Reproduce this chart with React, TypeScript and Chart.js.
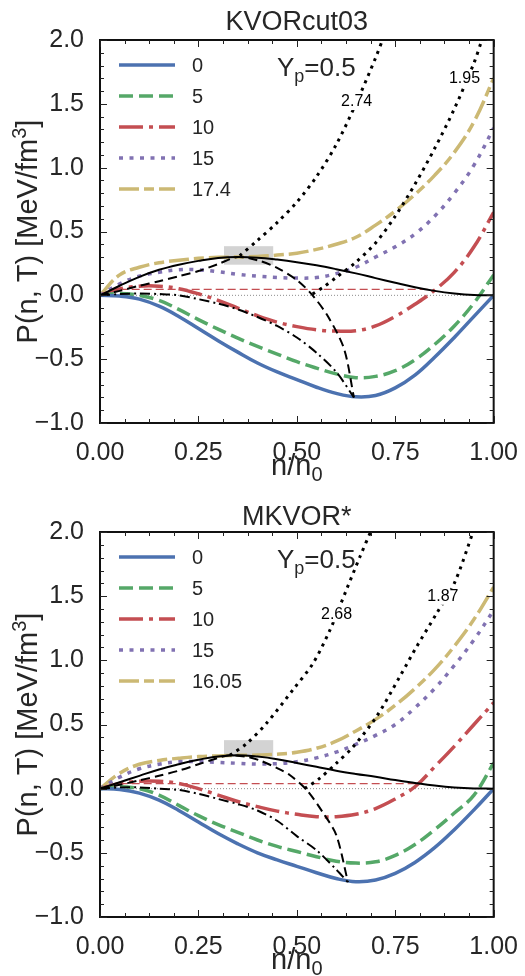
import React, { useEffect, useRef } from 'react';
import { Chart, registerables } from 'chart.js';

Chart.register(...registerables);

const FONT = '"Liberation Sans", Arial, sans-serif';
const TEXT = '#262626';
const C_BLUE = '#4c72b0';
const C_GREEN = '#55a868';
const C_RED = '#c44e52';
const C_PURPLE = '#8172b2';
const C_YELLOW = '#ccb974';

// common density grid n/n0
const XG = [0, 0.05, 0.1, 0.15, 0.2, 0.25, 0.3, 0.35, 0.4, 0.45, 0.5, 0.55, 0.6, 0.65, 0.7, 0.75, 0.8, 0.85, 0.9, 0.95, 1.0];

// ---------- KVORcut03 ----------
const K_T0 = [0, -0.006, -0.03, -0.085, -0.165, -0.26, -0.355, -0.445, -0.53, -0.6, -0.66, -0.72, -0.768, -0.795, -0.785, -0.725, -0.625, -0.485, -0.33, -0.165, 0];
const K_T5 = [0, 0.015, 0.0, -0.04, -0.11, -0.19, -0.265, -0.335, -0.4, -0.46, -0.52, -0.57, -0.615, -0.645, -0.635, -0.59, -0.505, -0.385, -0.24, -0.06, 0.16];
const K_T10 = [0, 0.05, 0.072, 0.072, 0.052, 0.012, -0.04, -0.1, -0.16, -0.21, -0.245, -0.27, -0.28, -0.277, -0.24, -0.165, -0.07, 0.04, 0.18, 0.38, 0.65];
const K_T15 = [0, 0.09, 0.15, 0.18, 0.2, 0.2, 0.185, 0.165, 0.15, 0.14, 0.135, 0.14, 0.17, 0.22, 0.3, 0.38, 0.48, 0.62, 0.8, 1.02, 1.31];
const K_T17 = [0, 0.16, 0.22, 0.255, 0.275, 0.29, 0.298, 0.3, 0.305, 0.315, 0.33, 0.36, 0.4, 0.455, 0.55, 0.66, 0.79, 0.94, 1.12, 1.36, 1.7];
const K_BS = [0, 0.075, 0.145, 0.2, 0.24, 0.27, 0.293, 0.3, 0.295, 0.28, 0.26, 0.235, 0.205, 0.172, 0.135, 0.098, 0.063, 0.035, 0.015, 0.003, 0];
const K_BD_X = [0, 0.05, 0.1, 0.15, 0.2, 0.25, 0.3, 0.35, 0.4, 0.45, 0.5, 0.54, 0.58, 0.62, 0.645];
const K_BD_Y = [0, 0.035, 0.075, 0.11, 0.15, 0.19, 0.245, 0.3, 0.275, 0.215, 0.12, 0.0, -0.17, -0.42, -0.8];
const K_BDD_X = [0, 0.05, 0.1, 0.15, 0.2, 0.25, 0.3, 0.35, 0.4, 0.45, 0.5, 0.55, 0.6, 0.645];
const K_BDD_Y = [0, 0.01, 0.015, 0.01, 0.0, -0.03, -0.065, -0.11, -0.17, -0.24, -0.33, -0.45, -0.6, -0.8];
const K_S1_X = [0.355, 0.4, 0.45, 0.5, 0.55, 0.6, 0.65, 0.7, 0.72];
const K_S1_Y = [0.31, 0.43, 0.57, 0.73, 0.93, 1.18, 1.5, 1.86, 2.02];
const K_S2_X = [0.54, 0.57, 0.6, 0.65, 0.7, 0.75, 0.8, 0.85, 0.9, 0.95, 0.97];
const K_S2_Y = [0.01, 0.07, 0.14, 0.26, 0.41, 0.62, 0.87, 1.15, 1.46, 1.82, 2.0];
const K_MAXW_X = [0.05, 0.84];
const K_MAXW_Y = [0.047, 0.047];
const K_BOX = [0.315, 0.44, 0.24, 0.385];
const K_TEMPS = ['0', '5', '10', '15', '17.4'];
const K_SLABELS = ['2.74', '1.95'];
const K_SLABEL_POS = [[0.652, 1.514], [0.926, 1.70]];

// ---------- MKVOR* ----------
const M_T0 = [0, -0.006, -0.035, -0.09, -0.17, -0.26, -0.35, -0.43, -0.5, -0.555, -0.605, -0.655, -0.7, -0.725, -0.712, -0.66, -0.575, -0.46, -0.32, -0.165, 0];
const M_T5 = [0, 0.015, 0.0, -0.05, -0.13, -0.21, -0.28, -0.34, -0.4, -0.45, -0.49, -0.53, -0.565, -0.58, -0.57, -0.52, -0.435, -0.32, -0.19, -0.05, 0.2];
const M_T10 = [0, 0.04, 0.058, 0.058, 0.04, 0.0, -0.05, -0.1, -0.14, -0.175, -0.2, -0.218, -0.218, -0.2, -0.155, -0.08, 0.015, 0.17, 0.33, 0.5, 0.67];
const M_T15 = [0, 0.09, 0.155, 0.19, 0.21, 0.21, 0.205, 0.198, 0.192, 0.195, 0.21, 0.24, 0.285, 0.345, 0.415, 0.5, 0.63, 0.78, 0.96, 1.16, 1.39];
const M_T16 = [0, 0.12, 0.19, 0.22, 0.237, 0.25, 0.255, 0.26, 0.262, 0.268, 0.283, 0.315, 0.37, 0.45, 0.54, 0.65, 0.78, 0.93, 1.11, 1.32, 1.57];
const M_BS = [0, 0.05, 0.1, 0.15, 0.19, 0.225, 0.25, 0.26, 0.25, 0.23, 0.2, 0.17, 0.14, 0.115, 0.093, 0.067, 0.045, 0.025, 0.01, 0.002, 0];
const M_BD_X = [0, 0.05, 0.1, 0.15, 0.2, 0.25, 0.3, 0.33, 0.37, 0.406, 0.45, 0.482, 0.525, 0.567, 0.6, 0.63];
const M_BD_Y = [0, 0.03, 0.065, 0.1, 0.14, 0.19, 0.24, 0.26, 0.25, 0.22, 0.16, 0.106, -0.01, -0.19, -0.36, -0.73];
const M_BDD_X = [0, 0.05, 0.1, 0.15, 0.2, 0.25, 0.3, 0.35, 0.4, 0.45, 0.5, 0.55, 0.6, 0.63];
const M_BDD_Y = [0, 0.01, 0.01, 0.0, -0.01, -0.04, -0.08, -0.12, -0.17, -0.25, -0.37, -0.48, -0.63, -0.73];
const M_S1_X = [0.33, 0.372, 0.423, 0.49, 0.541, 0.584, 0.626, 0.66, 0.69];
const M_S1_Y = [0.26, 0.35, 0.51, 0.77, 0.976, 1.235, 1.55, 1.805, 2.02];
const M_S2_X = [0.52, 0.558, 0.6, 0.643, 0.702, 0.761, 0.804, 0.855, 0.9, 0.95];
const M_S2_Y = [0.0, 0.08, 0.197, 0.326, 0.56, 0.87, 1.105, 1.365, 1.6, 2.02];
const M_MAXW_X = [0.05, 0.8];
const M_MAXW_Y = [0.04, 0.04];
const M_BOX = [0.315, 0.44, 0.248, 0.378];
const M_TEMPS = ['0', '5', '10', '15', '16.05'];
const M_SLABELS = ['2.68', '1.87'];
const M_SLABEL_POS = [[0.601, 1.36], [0.871, 1.495]];

const ZERO_X = [0, 1];
const ZERO_Y = [0, 0];

type Curve = { x: number[]; y: number[]; color: string; width: number; dash: number[]; order: number; tension: number };

const STYLE = {
  t0: { color: C_BLUE, width: 3.5, dash: [] as number[] },
  t5: { color: C_GREEN, width: 3.5, dash: [14, 6] },
  t10: { color: C_RED, width: 3.5, dash: [24, 6, 4, 6] },
  t15: { color: C_PURPLE, width: 3.5, dash: [4, 6.5] },
  t17: { color: C_YELLOW, width: 3.5, dash: [20, 5, 10, 5] },
};

function buildCurves(t: number[][], bs: number[], bd: number[][], bdd: number[][], s1: number[][], s2: number[][], mx: number[][]): Curve[] {
  const st = [STYLE.t0, STYLE.t5, STYLE.t10, STYLE.t15, STYLE.t17];
  const out: Curve[] = [];
  out.push({ x: ZERO_X, y: ZERO_Y, color: '#8c8c8c', width: 1, dash: [1, 2], order: 3, tension: 0 });
  out.push({ x: mx[0], y: mx[1], color: C_RED, width: 1.2, dash: [8, 4], order: 2, tension: 0 });
  t.forEach((ys, i) => out.push({ x: XG, y: ys, color: st[i].color, width: st[i].width, dash: st[i].dash, order: 1, tension: 0.4 }));
  out.push({ x: XG, y: bs, color: '#000', width: 2, dash: [], order: 0, tension: 0.4 });
  out.push({ x: bd[0], y: bd[1], color: '#000', width: 2, dash: [9, 5], order: 0, tension: 0.3 });
  out.push({ x: bdd[0], y: bdd[1], color: '#000', width: 2, dash: [10, 4, 2, 4], order: 0, tension: 0.3 });
  out.push({ x: s1[0], y: s1[1], color: '#000', width: 3, dash: [3, 5], order: 0, tension: 0.3 });
  out.push({ x: s2[0], y: s2[1], color: '#000', width: 3, dash: [3, 5], order: 0, tension: 0.3 });
  return out;
}

const fmtTick = (v: number, d: number) => {
  const s = Math.abs(v).toFixed(d);
  return v < -1e-9 ? '\u2212' + s : s;
};

type Part = { t: string; size: number; dy: number };

function drawRich(ctx: CanvasRenderingContext2D, parts: Part[], x: number, y: number, align: 'left' | 'center') {
  let w = 0;
  for (const p of parts) {
    ctx.font = `${p.size}px ${FONT}`;
    w += ctx.measureText(p.t).width;
  }
  let cx = align === 'center' ? x - w / 2 : x;
  ctx.textAlign = 'left';
  ctx.textBaseline = 'alphabetic';
  for (const p of parts) {
    ctx.font = `${p.size}px ${FONT}`;
    ctx.fillText(p.t, cx, y + p.dy);
    cx += ctx.measureText(p.t).width;
  }
}

type PanelProps = {
  top: number;
  height: number;
  areaTop: number;
  areaBottom: number;
  title: string;
  titleY: number;
  curves: Curve[];
  temps: string[];
  box: number[];
  sLabels: string[];
  sLabelPos: number[][];
};

function Panel(props: PanelProps) {
  const ref = useRef<HTMLCanvasElement>(null);
  useEffect(() => {
    const p = props;
    const canvas = ref.current!;
    const datasets = p.curves.map((c, i) => ({
      label: 'c' + i,
      data: c.x.map((x, j) => ({ x, y: c.y[j] })),
      showLine: true,
      borderColor: c.color,
      backgroundColor: c.color,
      borderWidth: c.width,
      borderDash: c.dash,
      borderCapStyle: 'butt',
      pointRadius: 0,
      pointHoverRadius: 0,
      fill: false,
      tension: c.tension,
      order: c.order,
    }));

    const decor = {
      id: 'decor',
      beforeDatasetsDraw(chart: any) {
        const ctx = chart.ctx as CanvasRenderingContext2D;
        const xs = chart.scales.x;
        const ys = chart.scales.y;
        const x0 = xs.getPixelForValue(p.box[0]);
        const x1 = xs.getPixelForValue(p.box[1]);
        const y0 = ys.getPixelForValue(p.box[3]);
        const y1 = ys.getPixelForValue(p.box[2]);
        ctx.save();
        ctx.fillStyle = '#d3d3d3';
        ctx.fillRect(x0, y0, x1 - x0, y1 - y0);
        ctx.restore();
      },
      afterDatasetsDraw(chart: any) {
        const ctx = chart.ctx as CanvasRenderingContext2D;
        const a = chart.chartArea;
        const xs = chart.scales.x;
        const ys = chart.scales.y;
        ctx.save();
        // isentrope labels (inline: line is broken under the label)
        ctx.font = `16px ${FONT}`;
        ctx.textAlign = 'center';
        ctx.textBaseline = 'middle';
        p.sLabels.forEach((s, i) => {
          const lx = xs.getPixelForValue(p.sLabelPos[i][0]);
          const ly = ys.getPixelForValue(p.sLabelPos[i][1]);
          const w = ctx.measureText(s).width;
          ctx.fillStyle = '#fff';
          ctx.fillRect(lx - w / 2 - 2, ly - 8, w + 4, 16);
          ctx.fillStyle = '#000';
          ctx.fillText(s, lx, ly);
        });
        // frame
        ctx.strokeStyle = '#111';
        ctx.lineWidth = 2;
        ctx.setLineDash([]);
        ctx.strokeRect(a.left, a.top, a.right - a.left, a.bottom - a.top);
        // ticks (inward, all sides)
        ctx.strokeStyle = '#222';
        ctx.lineWidth = 1;
        ctx.beginPath();
        for (let i = 0; i <= 16; i++) {
          const v = i / 16;
          const L = i % 4 === 0 ? 7 : 4;
          const px = Math.round(xs.getPixelForValue(v)) + 0.5;
          ctx.moveTo(px, a.bottom); ctx.lineTo(px, a.bottom - L);
          ctx.moveTo(px, a.top); ctx.lineTo(px, a.top + L);
        }
        for (let i = -10; i <= 20; i++) {
          const v = i / 10;
          const L = i % 5 === 0 ? 7 : 4;
          const py = Math.round(ys.getPixelForValue(v)) + 0.5;
          ctx.moveTo(a.left, py); ctx.lineTo(a.left + L, py);
          ctx.moveTo(a.right, py); ctx.lineTo(a.right - L, py);
        }
        ctx.stroke();

        // legend
        const styles = [STYLE.t0, STYLE.t5, STYLE.t10, STYLE.t15, STYLE.t17];
        for (let i = 0; i < 5; i++) {
          const y = a.top + 25 + i * 31;
          ctx.strokeStyle = styles[i].color;
          ctx.lineWidth = styles[i].width;
          ctx.setLineDash(styles[i].dash);
          ctx.beginPath();
          ctx.moveTo(a.left + 19, y);
          ctx.lineTo(a.left + 75, y);
          ctx.stroke();
          ctx.setLineDash([]);
          ctx.fillStyle = TEXT;
          ctx.font = `20px ${FONT}`;
          ctx.textAlign = 'left';
          ctx.textBaseline = 'middle';
          ctx.fillText(p.temps[i], a.left + 92, y + 1);
        }
        // Y_p = 0.5
        ctx.fillStyle = TEXT;
        drawRich(ctx, [
          { t: 'Y', size: 26, dy: 0 },
          { t: 'p', size: 18, dy: 6 },
          { t: '=0.5', size: 26, dy: 0 },
        ], a.left + 177, a.top + 36, 'left');

        // title
        ctx.fillStyle = TEXT;
        ctx.font = `27px ${FONT}`;
        ctx.textAlign = 'center';
        ctx.textBaseline = 'alphabetic';
        ctx.fillText(p.title, (a.left + a.right) / 2, p.titleY);
        // x label
        drawRich(ctx, [
          { t: 'n/n', size: 29, dy: 0 },
          { t: '0', size: 20, dy: 6 },
        ], (a.left + a.right) / 2, a.bottom + 52, 'center');
        // y label
        ctx.translate(37, (a.top + a.bottom) / 2);
        ctx.rotate(-Math.PI / 2);
        drawRich(ctx, [
          { t: 'P(n, T) [MeV/fm', size: 29, dy: 0 },
          { t: '3', size: 20, dy: -11 },
          { t: ']', size: 29, dy: 0 },
        ], 0, 0, 'center');
        ctx.restore();
      },
    };

    const tickFont = { family: FONT, size: 25 };
    const chart = new Chart(canvas, {
      type: 'scatter',
      data: { datasets: datasets as any },
      options: {
        animation: false,
        responsive: false,
        events: [],
        layout: { padding: { top: p.areaTop, right: 31, left: 0, bottom: 0 } },
        plugins: { legend: { display: false }, tooltip: { enabled: false }, title: { display: false } },
        scales: {
          x: {
            type: 'linear',
            min: 0,
            max: 1,
            afterFit: (s: any) => { s.height = p.height - p.areaBottom; },
            grid: { display: false },
            border: { display: false },
            ticks: {
              stepSize: 0.25,
              callback: (v: any) => fmtTick(Number(v), 2),
              font: tickFont,
              color: TEXT,
              padding: 7,
              maxRotation: 0,
              autoSkip: false,
            },
          },
          y: {
            type: 'linear',
            min: -1,
            max: 2,
            afterFit: (s: any) => { s.width = 100; },
            grid: { display: false },
            border: { display: false },
            ticks: {
              stepSize: 0.5,
              callback: (v: any) => fmtTick(Number(v), 1),
              font: tickFont,
              color: TEXT,
              padding: 8,
              autoSkip: false,
            },
          },
        },
      } as any,
      plugins: [decor],
    });
    return () => chart.destroy();
  }, []);
  return (
    <canvas
      ref={ref}
      width={525}
      height={props.height}
      style={{ position: 'absolute', left: 0, top: props.top, width: 525, height: props.height }}
    />
  );
}

const K_CURVES = buildCurves([K_T0, K_T5, K_T10, K_T15, K_T17], K_BS, [K_BD_X, K_BD_Y], [K_BDD_X, K_BDD_Y], [K_S1_X, K_S1_Y], [K_S2_X, K_S2_Y], [K_MAXW_X, K_MAXW_Y]);
const M_CURVES = buildCurves([M_T0, M_T5, M_T10, M_T15, M_T16], M_BS, [M_BD_X, M_BD_Y], [M_BDD_X, M_BDD_Y], [M_S1_X, M_S1_Y], [M_S2_X, M_S2_Y], [M_MAXW_X, M_MAXW_Y]);

export default function App() {
  return (
    <div style={{ position: 'absolute', left: 0, top: 0, width: 525, height: 976, background: '#fff' }}>
      <Panel top={0} height={488} areaTop={40} areaBottom={423} title="KVORcut03" titleY={30} curves={K_CURVES} temps={K_TEMPS} box={K_BOX} sLabels={K_SLABELS} sLabelPos={K_SLABEL_POS} />
      <Panel top={488} height={488} areaTop={44} areaBottom={429} title="MKVOR*" titleY={37} curves={M_CURVES} temps={M_TEMPS} box={M_BOX} sLabels={M_SLABELS} sLabelPos={M_SLABEL_POS} />
    </div>
  );
}
